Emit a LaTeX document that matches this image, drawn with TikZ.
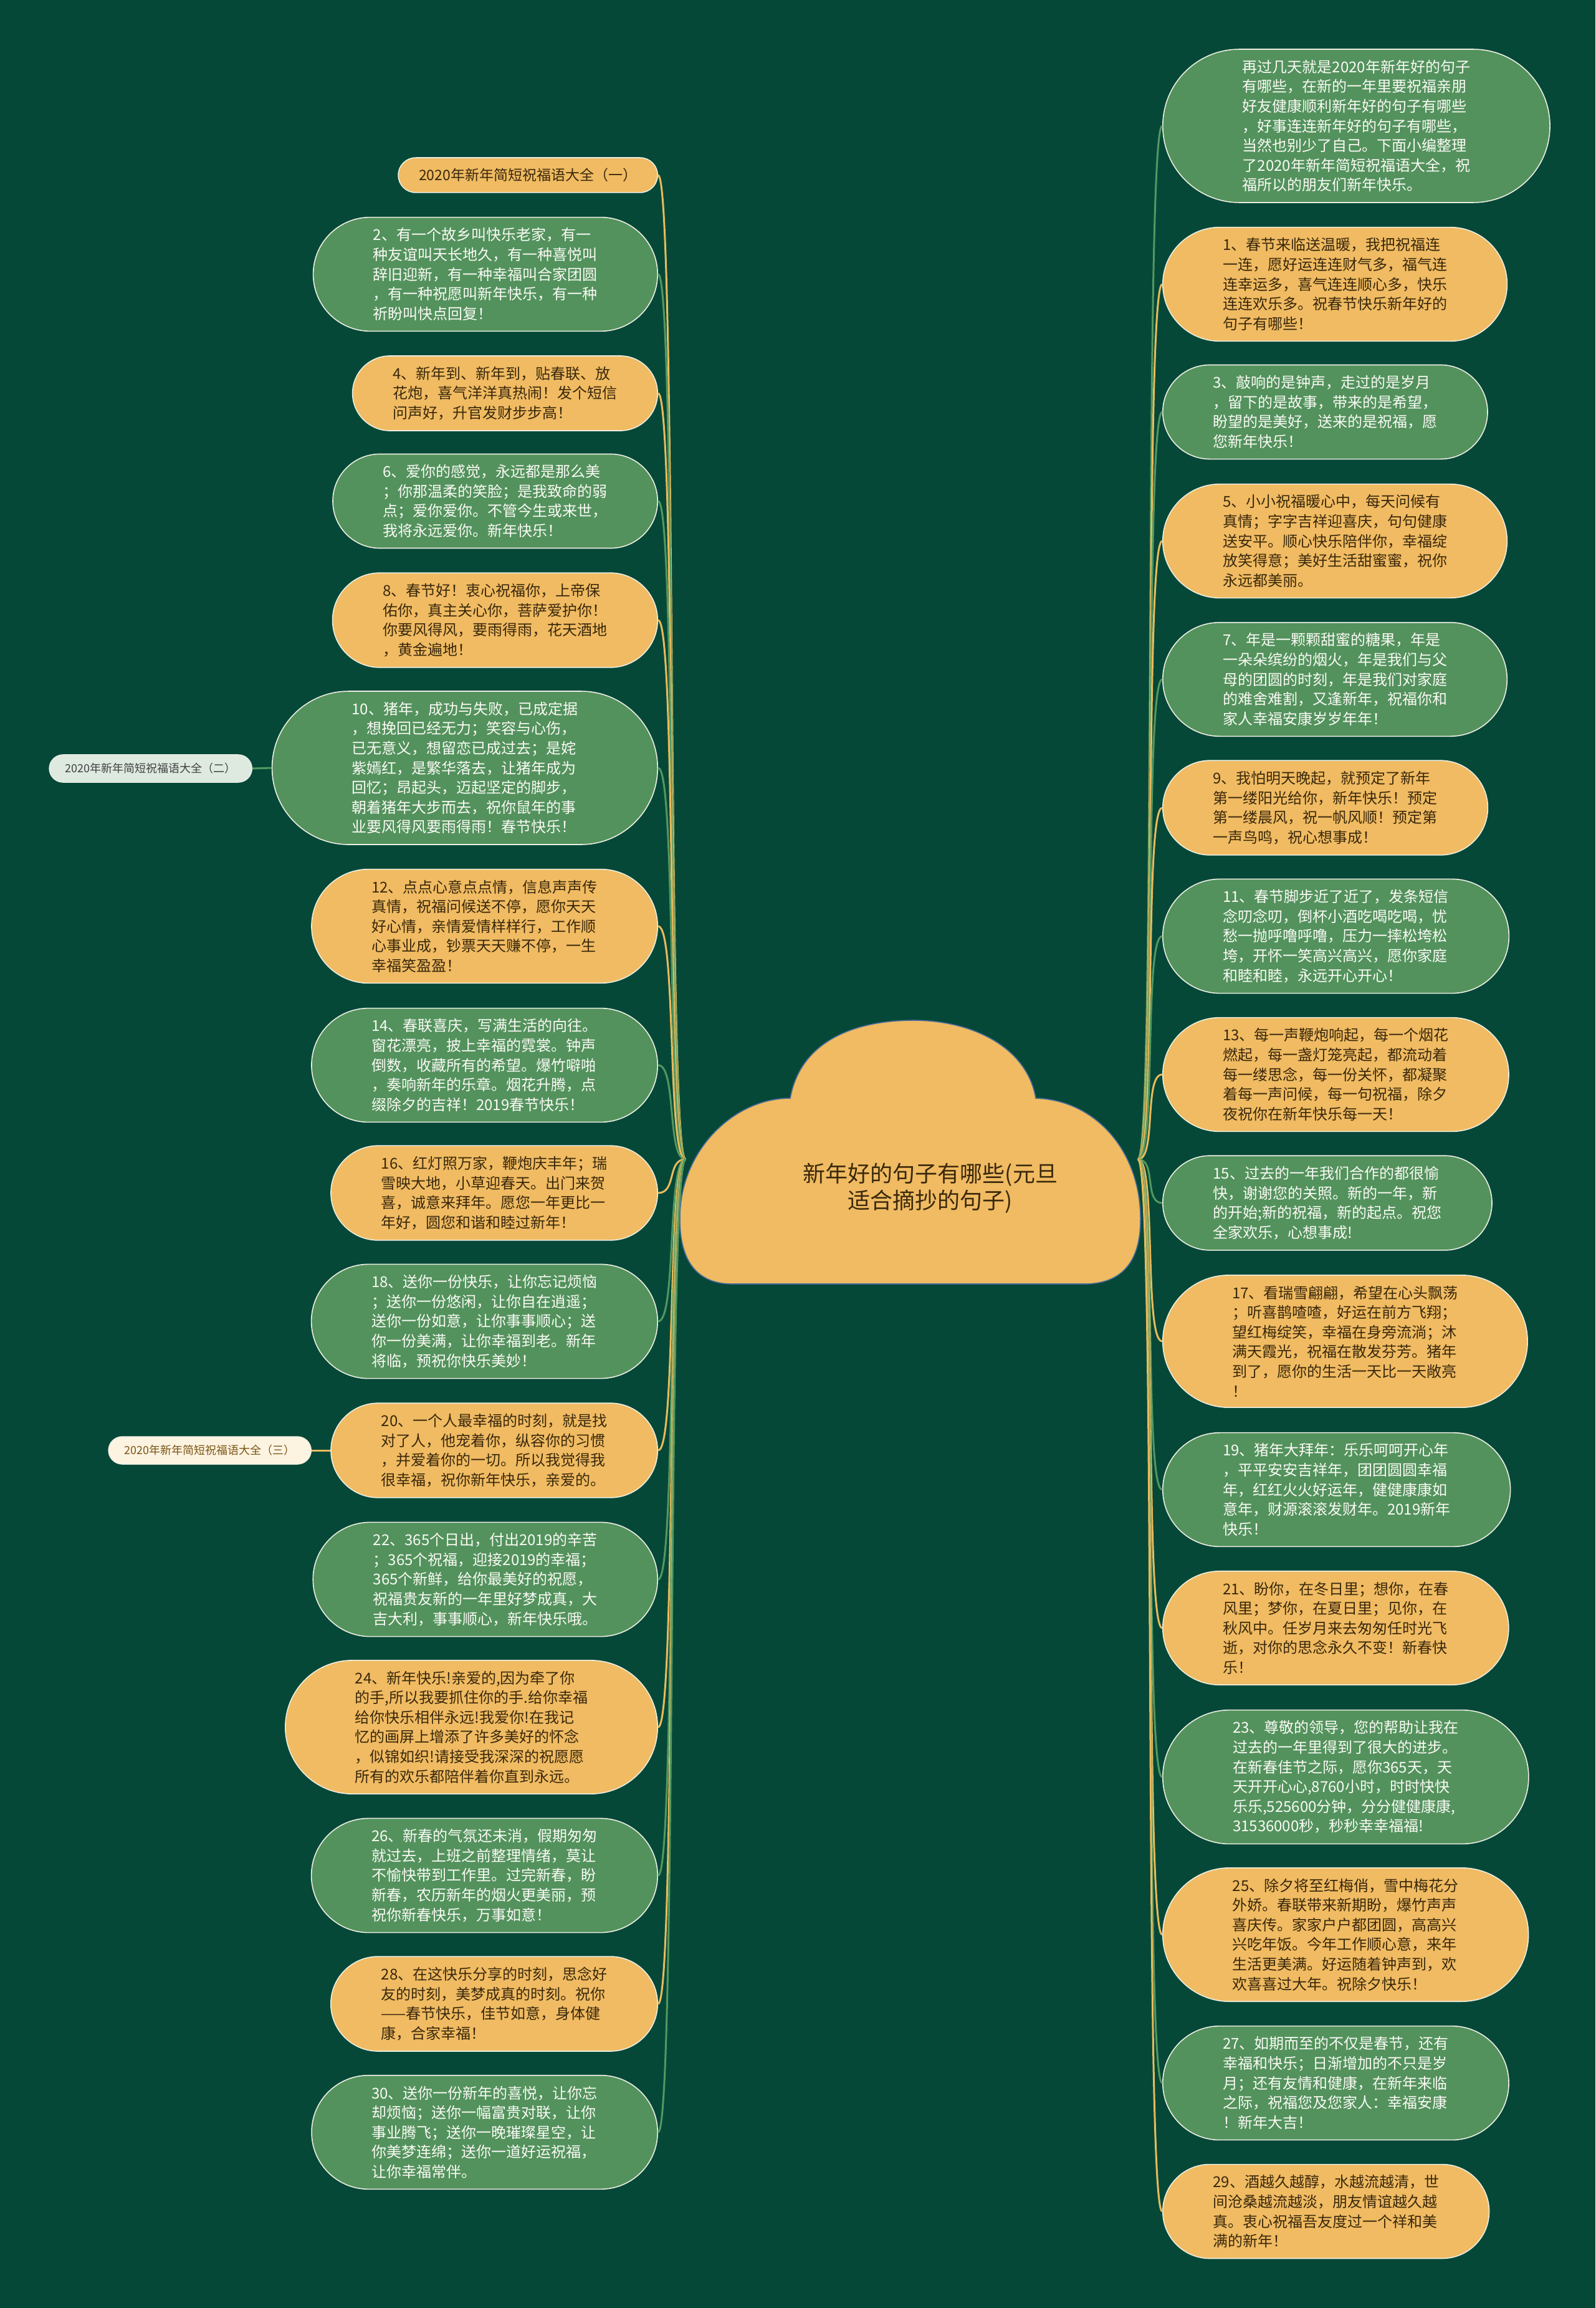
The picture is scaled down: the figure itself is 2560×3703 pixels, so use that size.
\documentclass[tikz,border=0pt]{standalone}
\usepackage{fontspec}
\setmainfont{Noto Sans CJK SC}
\usetikzlibrary{shapes.misc}
\definecolor{bgteal}{RGB}{6,72,56}
\definecolor{nodegreen}{RGB}{83,146,93}
\definecolor{nodeorange}{RGB}{240,187,98}
\definecolor{textdark}{RGB}{58,40,12}
\definecolor{textlight}{RGB}{250,250,244}
\definecolor{edgewhite}{RGB}{236,238,226}
\definecolor{linkgreen}{RGB}{82,152,96}
\definecolor{linkorange}{RGB}{233,186,92}
\definecolor{sidegray}{RGB}{222,234,224}
\definecolor{sidecream}{RGB}{253,243,225}
\definecolor{sidebrown}{RGB}{122,86,22}
\definecolor{cloudline}{RGB}{72,108,156}
\newcommand{\msgfont}{\fontsize{12pt}{15.8pt}\selectfont}
\newcommand{\headfont}{\fontsize{11.5pt}{14pt}\selectfont}
\newcommand{\sidefont}{\fontsize{9pt}{11pt}\selectfont}
\newcommand{\rootfont}{\fontsize{18pt}{21.5pt}\selectfont}

\begin{document}
\begin{tikzpicture}[x=0.5pt, y=-0.5pt,
  pill/.style={rounded rectangle, draw=edgewhite, line width=0.8pt,
    inner xsep=2.5pt, inner ysep=8.5pt, align=left, font=\msgfont},
  gpill/.style={pill, fill=nodegreen, text=textlight},
  opill/.style={pill, fill=nodeorange, text=textdark},
  n3/.style={inner xsep=23.3pt},
  n4/.style={inner xsep=26.4pt},
  n5/.style={inner xsep=29pt},
  n6/.style={inner xsep=31.4pt},
  n7/.style={inner xsep=33.7pt},
  side/.style={rounded rectangle, draw=edgewhite, line width=0.6pt,
    inner xsep=12pt, inner ysep=6.8pt, font=\sidefont},
  glink/.style={draw=linkgreen, line width=1.5pt},
  olink/.style={draw=linkorange, line width=1.5pt}
]
\fill[bgteal] (0,0) rectangle (2560,3703);

\coordinate (rootL) at (1100,1860);
\coordinate (rootR) at (1826,1860);

% left column
\node[opill, font=\headfont, inner xsep=15.4pt, anchor=east] (sec1) at (1056,281) {2020年新年简短祝福语大全（一）};
\node[gpill, n5, anchor=east] (m2) at (1056,440) {2、有一个故乡叫快乐老家，有一\\种友谊叫天长地久，有一种喜悦叫\\辞旧迎新，有一种幸福叫合家团圆\\，有一种祝愿叫新年快乐，有一种\\祈盼叫快点回复！};
\node[opill, n3, anchor=east] (m4) at (1056,631) {4、新年到、新年到，贴春联、放\\花炮，喜气洋洋真热闹！发个短信\\问声好，升官发财步步高！};
\node[gpill, n4, anchor=east] (m6) at (1056,804) {6、爱你的感觉，永远都是那么美\\；你那温柔的笑脸；是我致命的弱\\点；爱你爱你。不管今生或来世，\\我将永远爱你。新年快乐！};
\node[opill, n4, anchor=east] (m8) at (1056,995) {8、春节好！衷心祝福你，上帝保\\佑你，真主关心你，菩萨爱护你！\\你要风得风，要雨得雨，花天酒地\\，黄金遍地！};
\node[gpill, n7, anchor=east] (m10) at (1056,1232) {10、猪年，成功与失败，已成定据\\，想挽回已经无力；笑容与心伤，\\已无意义，想留恋已成过去；是姹\\紫嫣红，是繁华落去，让猪年成为\\回忆；昂起头，迈起坚定的脚步，\\朝着猪年大步而去，祝你鼠年的事\\业要风得风要雨得雨！春节快乐！};
\node[opill, n5, anchor=east] (m12) at (1056,1486) {12、点点心意点点情，信息声声传\\真情，祝福问候送不停，愿你天天\\好心情，亲情爱情样样行，工作顺\\心事业成，钞票天天赚不停，一生\\幸福笑盈盈！};
\node[gpill, n5, anchor=east] (m14) at (1056,1709) {14、春联喜庆，写满生活的向往。\\窗花漂亮，披上幸福的霓裳。钟声\\倒数，收藏所有的希望。爆竹噼啪\\，奏响新年的乐章。烟花升腾，点\\缀除夕的吉祥！2019春节快乐！};
\node[opill, n4, anchor=east] (m16) at (1056,1914) {16、红灯照万家，鞭炮庆丰年；瑞\\雪映大地，小草迎春天。出门来贺\\喜，诚意来拜年。愿您一年更比一\\年好，圆您和谐和睦过新年！};
\node[gpill, n5, anchor=east] (m18) at (1056,2120) {18、送你一份快乐，让你忘记烦恼\\；送你一份悠闲，让你自在逍遥；\\送你一份如意，让你事事顺心；送\\你一份美满，让你幸福到老。新年\\将临，预祝你快乐美妙！};
\node[opill, n4, anchor=east] (m20) at (1056,2327) {20、一个人最幸福的时刻，就是找\\对了人，他宠着你，纵容你的习惯\\，并爱着你的一切。所以我觉得我\\很幸福，祝你新年快乐，亲爱的。};
\node[gpill, n5, anchor=east] (m22) at (1056,2534) {22、365个日出，付出2019的辛苦\\；365个祝福，迎接2019的幸福；\\365个新鲜，给你最美好的祝愿，\\祝福贵友新的一年里好梦成真，大\\吉大利，事事顺心，新年快乐哦。};
\node[opill, n6, anchor=east] (m24) at (1056,2771) {24、新年快乐!亲爱的,因为牵了你\\的手,所以我要抓住你的手.给你幸福\\给你快乐相伴永远!我爱你!在我记\\忆的画屏上增添了许多美好的怀念\\，似锦如织!请接受我深深的祝愿愿\\所有的欢乐都陪伴着你直到永远。};
\node[gpill, n5, anchor=east] (m26) at (1056,3009) {26、新春的气氛还未消，假期匆匆\\就过去，上班之前整理情绪，莫让\\不愉快带到工作里。过完新春，盼\\新春，农历新年的烟火更美丽，预\\祝你新春快乐，万事如意！};
\node[opill, n4, anchor=east] (m28) at (1056,3215) {28、在这快乐分享的时刻，思念好\\友的时刻，美梦成真的时刻。祝你\\——春节快乐，佳节如意，身体健\\康，合家幸福！};
\node[gpill, n5, anchor=east] (m30) at (1056,3421) {30、送你一份新年的喜悦，让你忘\\却烦恼；送你一幅富贵对联，让你\\事业腾飞；送你一晚璀璨星空，让\\你美梦连绵；送你一道好运祝福，\\让你幸福常伴。};

\node[side, fill=sidegray, text=black!75, anchor=east] (sec2) at (405,1233) {2020年新年简短祝福语大全（二）};
\node[side, fill=sidecream, text=sidebrown, anchor=east] (sec3) at (500,2327) {2020年新年简短祝福语大全（三）};

% right column
\node[gpill, n7, anchor=west] (intro) at (1865,202) {再过几天就是2020年新年好的句子\\有哪些，在新的一年里要祝福亲朋\\好友健康顺利新年好的句子有哪些\\，好事连连新年好的句子有哪些，\\当然也别少了自己。下面小编整理\\了2020年新年简短祝福语大全，祝\\福所以的朋友们新年快乐。};
\node[opill, n5, anchor=west] (m1) at (1865,456) {1、春节来临送温暖，我把祝福连\\一连，愿好运连连财气多，福气连\\连幸运多，喜气连连顺心多，快乐\\连连欢乐多。祝春节快乐新年好的\\句子有哪些！};
\node[gpill, n4, anchor=west] (m3) at (1865,661) {3、敲响的是钟声，走过的是岁月\\，留下的是故事，带来的是希望，\\盼望的是美好，送来的是祝福，愿\\您新年快乐！};
\node[opill, n5, anchor=west] (m5) at (1865,868) {5、小小祝福暖心中，每天问候有\\真情；字字吉祥迎喜庆，句句健康\\送安平。顺心快乐陪伴你，幸福绽\\放笑得意；美好生活甜蜜蜜，祝你\\永远都美丽。};
\node[gpill, n5, anchor=west] (m7) at (1865,1090) {7、年是一颗颗甜蜜的糖果，年是\\一朵朵缤纷的烟火，年是我们与父\\母的团圆的时刻，年是我们对家庭\\的难舍难割，又逢新年，祝福你和\\家人幸福安康岁岁年年！};
\node[opill, n4, anchor=west] (m9) at (1865,1296) {9、我怕明天晚起，就预定了新年\\第一缕阳光给你，新年快乐！预定\\第一缕晨风，祝一帆风顺！预定第\\一声鸟鸣，祝心想事成！};
\node[gpill, n5, anchor=west] (m11) at (1865,1502) {11、春节脚步近了近了，发条短信\\念叨念叨，倒杯小酒吃喝吃喝，忧\\愁一抛呼噜呼噜，压力一摔松垮松\\垮，开怀一笑高兴高兴，愿你家庭\\和睦和睦，永远开心开心！};
\node[opill, n5, anchor=west] (m13) at (1865,1724) {13、每一声鞭炮响起，每一个烟花\\燃起，每一盏灯笼亮起，都流动着\\每一缕思念，每一份关怀，都凝聚\\着每一声问候，每一句祝福，除夕\\夜祝你在新年快乐每一天！};
\node[gpill, n4, anchor=west] (m15) at (1865,1930) {15、过去的一年我们合作的都很愉\\快，谢谢您的关照。新的一年，新\\的开始;新的祝福，新的起点。祝您\\全家欢乐，心想事成!};
\node[opill, n6, anchor=west] (m17) at (1865,2152) {17、看瑞雪翩翩，希望在心头飘荡\\；听喜鹊喳喳，好运在前方飞翔；\\望红梅绽笑，幸福在身旁流淌；沐\\满天霞光，祝福在散发芬芳。猪年\\到了，愿你的生活一天比一天敞亮\\！};
\node[gpill, n5, anchor=west] (m19) at (1865,2390) {19、猪年大拜年：乐乐呵呵开心年\\，平平安安吉祥年，团团圆圆幸福\\年，红红火火好运年，健健康康如\\意年，财源滚滚发财年。2019新年\\快乐！};
\node[opill, n5, anchor=west] (m21) at (1865,2612) {21、盼你，在冬日里；想你，在春\\风里；梦你，在夏日里；见你，在\\秋风中。任岁月来去匆匆任时光飞\\逝，对你的思念永久不变！新春快\\乐！};
\node[gpill, n6, anchor=west] (m23) at (1865,2851) {23、尊敬的领导，您的帮助让我在\\过去的一年里得到了很大的进步。\\在新春佳节之际，愿你365天，天\\天开开心心,8760小时，时时快快\\乐乐,525600分钟，分分健健康康,\\31536000秒，秒秒幸幸福福!};
\node[opill, n6, anchor=west] (m25) at (1865,3104) {25、除夕将至红梅俏，雪中梅花分\\外娇。春联带来新期盼，爆竹声声\\喜庆传。家家户户都团圆，高高兴\\兴吃年饭。今年工作顺心意，来年\\生活更美满。好运随着钟声到，欢\\欢喜喜过大年。祝除夕快乐！};
\node[gpill, n5, anchor=west] (m27) at (1865,3342) {27、如期而至的不仅是春节，还有\\幸福和快乐；日渐增加的不只是岁\\月；还有友情和健康，在新年来临\\之际，祝福您及您家人：幸福安康\\！新年大吉！};
\node[opill, n4, anchor=west] (m29) at (1865,3548) {29、酒越久越醇，水越流越清，世\\间沧桑越流越淡，朋友情谊越久越\\真。衷心祝福吾友度过一个祥和美\\满的新年！};

% links, left
\draw[olink] (sec1.east) .. controls +(30,0) and +(-30,0) .. (rootL);
\draw[glink] (m2.east) .. controls +(30,0) and +(-30,0) .. (rootL);
\draw[olink] (m4.east) .. controls +(30,0) and +(-30,0) .. (rootL);
\draw[glink] (m6.east) .. controls +(30,0) and +(-30,0) .. (rootL);
\draw[olink] (m8.east) .. controls +(30,0) and +(-30,0) .. (rootL);
\draw[glink] (m10.east) .. controls +(30,0) and +(-30,0) .. (rootL);
\draw[olink] (m12.east) .. controls +(30,0) and +(-30,0) .. (rootL);
\draw[glink] (m14.east) .. controls +(30,0) and +(-30,0) .. (rootL);
\draw[olink] (m16.east) .. controls +(30,0) and +(-30,0) .. (rootL);
\draw[glink] (m18.east) .. controls +(30,0) and +(-30,0) .. (rootL);
\draw[olink] (m20.east) .. controls +(30,0) and +(-30,0) .. (rootL);
\draw[glink] (m22.east) .. controls +(30,0) and +(-30,0) .. (rootL);
\draw[olink] (m24.east) .. controls +(30,0) and +(-30,0) .. (rootL);
\draw[glink] (m26.east) .. controls +(30,0) and +(-30,0) .. (rootL);
\draw[olink] (m28.east) .. controls +(30,0) and +(-30,0) .. (rootL);
\draw[glink] (m30.east) .. controls +(30,0) and +(-30,0) .. (rootL);
\draw[glink] (sec2.east) -- (m10.west);
\draw[olink] (sec3.east) -- (m20.west);

% links, right
\draw[glink] (rootR) .. controls +(30,0) and +(-30,0) .. (intro.west);
\draw[olink] (rootR) .. controls +(30,0) and +(-30,0) .. (m1.west);
\draw[glink] (rootR) .. controls +(30,0) and +(-30,0) .. (m3.west);
\draw[olink] (rootR) .. controls +(30,0) and +(-30,0) .. (m5.west);
\draw[glink] (rootR) .. controls +(30,0) and +(-30,0) .. (m7.west);
\draw[olink] (rootR) .. controls +(30,0) and +(-30,0) .. (m9.west);
\draw[glink] (rootR) .. controls +(30,0) and +(-30,0) .. (m11.west);
\draw[olink] (rootR) .. controls +(30,0) and +(-30,0) .. (m13.west);
\draw[glink] (rootR) .. controls +(30,0) and +(-30,0) .. (m15.west);
\draw[olink] (rootR) .. controls +(30,0) and +(-30,0) .. (m17.west);
\draw[glink] (rootR) .. controls +(30,0) and +(-30,0) .. (m19.west);
\draw[olink] (rootR) .. controls +(30,0) and +(-30,0) .. (m21.west);
\draw[glink] (rootR) .. controls +(30,0) and +(-30,0) .. (m23.west);
\draw[olink] (rootR) .. controls +(30,0) and +(-30,0) .. (m25.west);
\draw[glink] (rootR) .. controls +(30,0) and +(-30,0) .. (m27.west);
\draw[olink] (rootR) .. controls +(30,0) and +(-30,0) .. (m29.west);

% central cloud
\filldraw[fill=nodeorange, draw=cloudline, line width=0.8pt]
  (1091,1960) .. controls (1088,1850) and (1175,1762) .. (1268,1762)
  .. controls (1285,1668) and (1375,1637) .. (1466,1637)
  .. controls (1560,1637) and (1648,1680) .. (1662,1762)
  .. controls (1760,1765) and (1832,1850) .. (1830,1960)
  .. controls (1829,2030) and (1795,2060) .. (1740,2060)
  -- (1175,2060) .. controls (1120,2060) and (1092,2025) .. (1091,1960) -- cycle;
\node[font=\rootfont, text=textdark, align=center] (root) at (1493,1906) {新年好的句子有哪些(元旦\\适合摘抄的句子)};
\end{tikzpicture}
\end{document}
